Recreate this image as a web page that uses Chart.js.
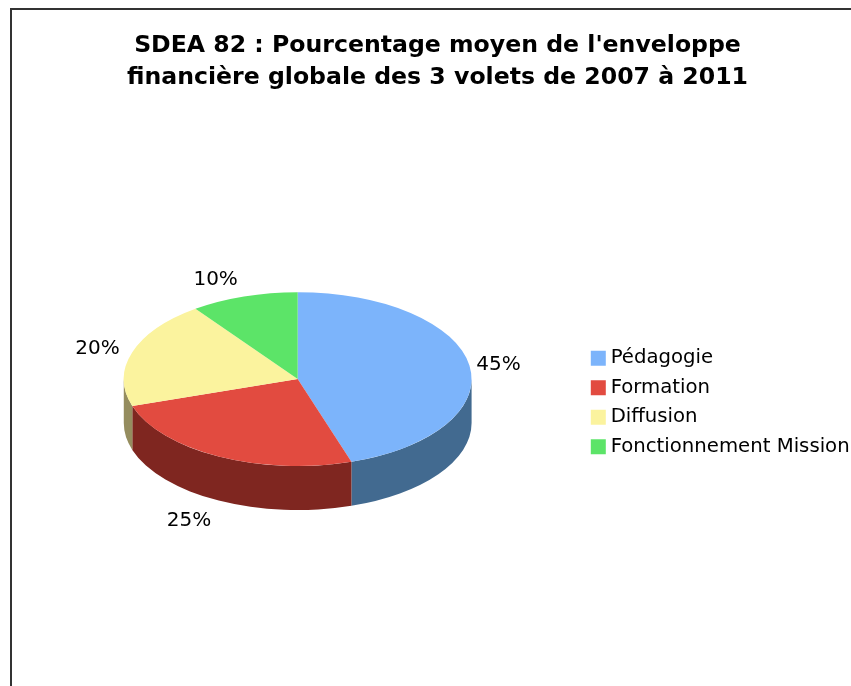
<!DOCTYPE html>
<html>
<head>
<meta charset="utf-8">
<title>SDEA 82</title>
<script src="https://cdn.jsdelivr.net/npm/chart.js@4"></script>
<style>
  body { margin: 0; background: #fff; }
  canvas { display: block; }
</style>
</head>
<body>
<canvas id="pieChart" width="851" height="686"></canvas>
<script>
const categories = ['Pédagogie', 'Formation', 'Diffusion', 'Fonctionnement Mission'];
const values = [45, 25, 20, 10];
const topColors = ['#7CB4FB', '#E24B40', '#FBF39E', '#5CE468'];
const sideColors = ['#426A90', '#7F2620', '#958D5F', '#2F7A38'];
const titleLines = ["SDEA 82 : Pourcentage moyen de l'enveloppe", 'financière globale des 3 volets de 2007 à 2011'];

const FONT = '"DejaVu Sans", sans-serif';
const SQUASH = 0.5;  // pie seen from an angle
const DEPTH = 44;    // wall height in px

// Frame around the picture (left and top only, the rest is cut off)
const framePlugin = {
  id: 'frame',
  beforeDraw(chart) {
    const ctx = chart.ctx;
    ctx.save();
    ctx.strokeStyle = '#333';
    ctx.lineWidth = 2;
    ctx.beginPath();
    ctx.moveTo(11, chart.height);
    ctx.lineTo(11, 9);
    ctx.lineTo(chart.width, 9);
    ctx.stroke();
    ctx.restore();
  }
};

// Moves legend and title to where the original has them
const placePlugin = {
  id: 'place',
  afterLayout(chart) {
    const legend = chart.legend;
    const h = legend.bottom - legend.top;
    legend.left = 586;
    legend.right = legend.left + legend.width;
    legend.top += 111;
    legend.bottom = legend.top + h;
    chart.titleBlock.left += 3;
    chart.titleBlock.right += 3;
  }
};

// Draws the walls, then squashes the arcs that the library draws on top
const pie3dPlugin = {
  id: 'pie3d',
  beforeDatasetsDraw(chart) {
    const ctx = chart.ctx;
    const arcs = chart.getDatasetMeta(0).data;
    arcs.forEach((arc, i) => {
      const from = Math.max(arc.startAngle, 0);
      const to = Math.min(arc.endAngle, Math.PI);
      if (from >= to) return;
      const ry = arc.outerRadius * SQUASH;
      ctx.beginPath();
      ctx.ellipse(arc.x, arc.y, arc.outerRadius, ry, 0, from, to);
      ctx.ellipse(arc.x, arc.y + DEPTH, arc.outerRadius, ry, 0, to, from, true);
      ctx.closePath();
      ctx.fillStyle = sideColors[i];
      ctx.fill();
    });
    const cy = arcs[0].y;
    ctx.save();
    ctx.translate(0, cy);
    ctx.scale(1, SQUASH);
    ctx.translate(0, -cy);
  },
  afterDatasetsDraw(chart) {
    chart.ctx.restore();
    drawPercentLabels(chart);
  }
};

function drawPercentLabels(chart) {
  const ctx = chart.ctx;
  ctx.save();
  ctx.font = '20px ' + FONT;
  ctx.fillStyle = '#000';
  ctx.textBaseline = 'middle';
  chart.getDatasetMeta(0).data.forEach((arc, i) => {
    const mid = (arc.startAngle + arc.endAngle) / 2;
    const cos = Math.cos(mid), sin = Math.sin(mid);
    const x = arc.x - 3 + (arc.outerRadius + 10) * cos;
    const y = arc.y + 2.5 + (arc.outerRadius * SQUASH + 20) * sin + (sin > 0 ? DEPTH : 0);
    ctx.textAlign = cos >= 0 ? 'left' : 'right';
    ctx.fillText(values[i] + '%', x, y);
  });
  ctx.restore();
}

new Chart(document.getElementById('pieChart').getContext('2d'), {
  type: 'pie',
  data: {
    labels: categories,
    datasets: [{
      data: values,
      backgroundColor: topColors,
      borderWidth: 0,
      clip: false
    }]
  },
  options: {
    responsive: false,
    animation: false,
    layout: { padding: { left: 18, right: 0, top: 30, bottom: 133 } },
    plugins: {
      title: {
        display: true,
        text: titleLines,
        color: '#000',
        font: { family: FONT, size: 23.6, weight: 'bold', lineHeight: 1.36 },
        padding: { top: 0, bottom: 111 }
      },
      legend: {
        position: 'right',
        labels: {
          color: '#000',
          font: { family: FONT, size: 19.7 },
          usePointStyle: true,
          pointStyle: 'rect',
          boxWidth: 5,
          boxHeight: 15,
          padding: 9.8
        }
      },
      tooltip: { enabled: false }
    }
  },
  plugins: [framePlugin, placePlugin, pie3dPlugin]
});
</script>
</body>
</html>
